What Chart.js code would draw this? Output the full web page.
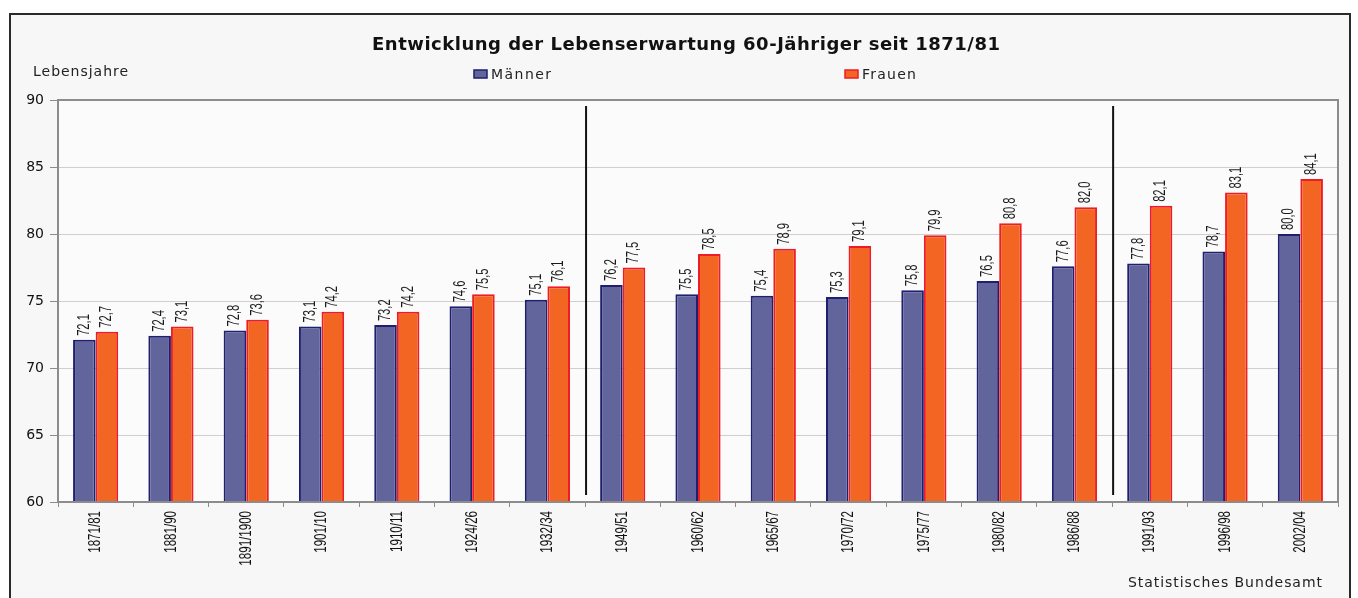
<!DOCTYPE html>
<html><head><meta charset="utf-8">
<script src="https://cdn.jsdelivr.net/npm/chart.js@4/dist/chart.umd.min.js"></script>
<style>html,body{margin:0;padding:0;background:#fff;}#wrap{position:absolute;left:0;top:0;width:1358px;height:598px;}</style>
</head><body><div id="wrap"><canvas id="c" width="1358" height="598"></canvas></div>
<script>
const categories = ["1871/81","1881/90","1891/1900","1901/10","1910/11","1924/26","1932/34","1949/51","1960/62","1965/67","1970/72","1975/77","1980/82","1986/88","1991/93","1996/98","2002/04"];
const maenner = [72.1,72.4,72.8,73.1,73.2,74.6,75.1,76.2,75.5,75.4,75.3,75.8,76.5,77.6,77.8,78.7,80.0];
const frauen  = [72.7,73.1,73.6,74.2,74.2,75.5,76.1,77.5,78.5,78.9,79.1,79.9,80.8,82.0,82.1,83.1,84.1];
const yTicks = [60,65,70,75,80,85,90];
const separatorsAfter = [6,13];
const titleText = "Entwicklung der Lebenserwartung 60-Jähriger seit 1871/81";
const yAxisTitle = "Lebensjahre";
const sourceText = "Statistisches Bundesamt";

const NARROW = "'Liberation Sans',Arial,sans-serif";
const WIDE = "'DejaVu Sans',Verdana,sans-serif";

function fitText(ctx,text,x,y,w){
  ctx.letterSpacing='0px';
  const m=ctx.measureText(text).width;
  const ls=(w-m)/Math.max(1,text.length-1);
  ctx.letterSpacing=ls.toFixed(2)+'px';
  ctx.textAlign='left';
  ctx.fillText(text,x,y);
  ctx.letterSpacing='0px';
}
function narrowRot(ctx,text,x,y,align,scale){
  ctx.save();ctx.translate(x,y);ctx.rotate(-Math.PI/2);ctx.scale(scale,1);
  ctx.textAlign=align;ctx.fillText(text,0,0);ctx.restore();
}

const deco = {
  id:'deco',
  beforeDraw(chart){
    const ctx=chart.ctx;
    ctx.save();
    ctx.fillStyle='#f7f7f7';
    ctx.fillRect(10,14,1340,600);
    ctx.strokeStyle='#2a2a2a';ctx.lineWidth=2;
    ctx.strokeRect(10,14,1340,600);
    const a=chart.chartArea;
    ctx.fillStyle='#fbfbfb';
    ctx.fillRect(a.left,a.top,a.right-a.left,a.bottom-a.top);
    ctx.restore();
  },
  afterDraw(chart){
    const ctx=chart.ctx, a=chart.chartArea, x=chart.scales.x;
    ctx.save();
    ctx.strokeStyle='#8c8c8c';ctx.lineWidth=2;
    ctx.strokeRect(a.left,a.top,a.right-a.left,a.bottom-a.top);
    ctx.strokeStyle='#111';ctx.lineWidth=2;
    separatorsAfter.forEach(i=>{
      const px=(x.getPixelForValue(i)+x.getPixelForValue(i+1))/2+1;
      ctx.beginPath();ctx.moveTo(px,a.top+6);ctx.lineTo(px,a.bottom-7);ctx.stroke();
    });
    // value labels
    ctx.fillStyle='#1a1a1a';ctx.font="16px "+NARROW;ctx.textBaseline='middle';
    chart.data.datasets.forEach((ds,di)=>{
      chart.getDatasetMeta(di).data.forEach((bar,i)=>{
        const t=ds.data[i].toFixed(1).replace('.',',');
        narrowRot(ctx,t,bar.x,bar.y-4,'left',0.7);
      });
    });
    // x labels
    ctx.font="17px "+NARROW;ctx.fillStyle='#111';
    categories.forEach((c,i)=>{
      narrowRot(ctx,c,x.getPixelForValue(i),a.bottom+9,'right',0.68);
    });
    // title
    ctx.fillStyle='#111';ctx.textBaseline='middle';
    ctx.font="bold 18px "+WIDE;
    fitText(ctx,titleText,372,45,628);
    ctx.fillStyle='#222';
    ctx.font="14px "+WIDE;
    fitText(ctx,yAxisTitle,33,72,95);
    // legend
    const leg=[[474,60,chart.data.datasets[0]],[845,54,chart.data.datasets[1]]];
    leg.forEach(([lx,w,ds])=>{
      ctx.fillStyle=ds.backgroundColor;ctx.strokeStyle=ds.borderColor;ctx.lineWidth=1.5;
      ctx.fillRect(lx,70,13,8);ctx.strokeRect(lx,70,13,8);
      ctx.fillStyle='#222';ctx.font="14px "+WIDE;fitText(ctx,ds.label,lx+17,75,w);
    });
    ctx.font="14px "+WIDE;ctx.fillStyle='#222';
    fitText(ctx,sourceText,1128,583,194);
    ctx.restore();
  }
};

new Chart(document.getElementById('c'),{
  type:'bar',
  data:{labels:categories,datasets:[
    {label:'Männer',data:maenner,backgroundColor:'#62649c',borderColor:'#1e1f6e',borderWidth:2,categoryPercentage:0.6,barPercentage:1},
    {label:'Frauen',data:frauen,backgroundColor:'#f26522',borderColor:'#ee1c25',borderWidth:2,categoryPercentage:0.6,barPercentage:1}
  ]},
  options:{
    responsive:false,animation:false,
    layout:{padding:{left:0,top:100,right:20,bottom:0}},
    plugins:{legend:{display:false},title:{display:false},tooltip:{enabled:false}},
    scales:{
      x:{
        grid:{display:true,drawOnChartArea:false,offset:true,tickLength:5,color:'#8c8c8c',lineWidth:1},
        border:{display:false},
        ticks:{display:false},
        afterFit(s){s.height=96;}
      },
      y:{
        min:60,max:90,
        afterBuildTicks(s){s.ticks=yTicks.map(v=>({value:v}));},
        grid:{color:'#cfcfcf',lineWidth:1,tickLength:8,tickColor:'#8c8c8c'},
        border:{display:false},
        ticks:{color:'#111',font:{family:WIDE,size:14},padding:6},
        afterFit(s){s.width=58;}
      }
    }
  },
  plugins:[deco]
});
</script></body></html>
